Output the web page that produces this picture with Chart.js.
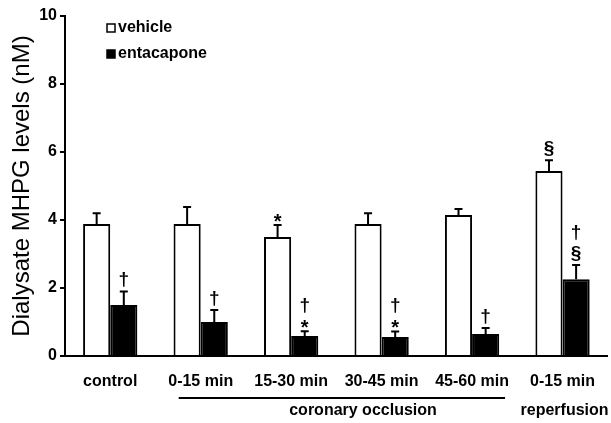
<!DOCTYPE html>
<html>
<head>
<meta charset="utf-8">
<script src="https://cdn.jsdelivr.net/npm/chart.js@4.4.0/dist/chart.umd.min.js"></script>
<style>
  html, body { margin: 0; padding: 0; background: #fff; }
  #wrap { width: 611px; height: 423px; }
</style>
</head>
<body>
<div id="wrap"><canvas id="mhpg-chart" width="611" height="423"></canvas></div>
<script>
const categories = ['control', '0-15 min', '15-30 min', '30-45 min', '45-60 min', '0-15 min']
const vehicle = [3.88, 3.88, 3.5, 3.88, 4.15, 5.44]
const vehicleErr = [0.32, 0.5, 0.35, 0.32, 0.17, 0.32]
const entacapone = [1.5, 1.0, 0.59, 0.56, 0.65, 2.26]
const entacaponeErr = [0.4, 0.35, 0.14, 0.16, 0.17, 0.42]
// significance marks above each bar, listed bottom to top
const vehicleMarks = [[], [], ['*'], [], [], ['§']]
const entacaponeMarks = [['†'], ['†'], ['*', '†'], ['*', '†'], ['†'], ['§', '†']]
const yTicks = [0, 2, 4, 6, 8, 10]

const FONT = '"Liberation Sans", Arial, sans-serif'

initChart()

function initChart() {
  const ctx = document.getElementById('mhpg-chart')

  new Chart(ctx, {
    type: 'bar',
    data: {
      labels: categories,
      datasets: [
        {
          label: 'vehicle',
          data: vehicle,
          err: vehicleErr,
          marks: vehicleMarks,
          backgroundColor: '#fff',
          borderColor: '#000',
          borderWidth: 2,
        },
        {
          label: 'entacapone',
          data: entacapone,
          err: entacaponeErr,
          marks: entacaponeMarks,
          backgroundColor: '#000',
          borderColor: '#000',
          borderWidth: 2,
        },
      ],
    },
    options: {
      responsive: false,
      animation: false,
      datasets: { bar: { categoryPercentage: 0.6, barPercentage: 1 } },
      layout: { padding: { top: 16, right: 0, left: 0, bottom: 0 } },
      plugins: { legend: { display: false }, tooltip: { enabled: false } },
      scales: {
        x: {
          grid: { display: false, drawTicks: false },
          border: { color: '#000', width: 2 },
          ticks: { color: '#000', padding: 16, font: { family: FONT, size: 16, weight: 'bold' } },
          afterFit: (s) => { s.height = 67 },
        },
        y: {
          min: 0,
          max: 10,
          afterBuildTicks: (s) => { s.ticks = yTicks.map((v) => ({ value: v })) },
          grid: { drawOnChartArea: false, color: '#000', lineWidth: 2, tickLength: 5 },
          border: { color: '#000', width: 2 },
          ticks: { color: '#000', padding: 3, font: { family: FONT, size: 16, weight: 'bold' } },
          title: {
            display: true,
            text: 'Dialysate MHPG levels (nM)',
            color: '#000',
            font: { family: FONT, size: 24 },
            padding: { top: 8, bottom: 0 },
          },
          afterFit: (s) => { s.width = 65 },
        },
      },
    },
    plugins: [errorBarsPlugin(), extrasPlugin()],
  })
}

function errorBarsPlugin() {
  return {
    id: 'errorBars',
    afterDatasetsDraw(chart) {
      const c = chart.ctx
      const y = chart.scales.y
      c.save()
      chart.data.datasets.forEach((ds, di) => {
        const meta = chart.getDatasetMeta(di)
        meta.data.forEach((bar, i) => {
          const top = y.getPixelForValue(ds.data[i] + ds.err[i])
          c.strokeStyle = '#000'
          c.lineWidth = 2
          c.beginPath()
          c.moveTo(bar.x, bar.y)
          c.lineTo(bar.x, top)
          c.moveTo(bar.x - 4, top)
          c.lineTo(bar.x + 4, top)
          c.stroke()

          c.fillStyle = '#000'
          c.textAlign = 'center'
          c.textBaseline = 'bottom'
          let base = top - 2
          ds.marks[i].forEach((m) => {
            if (m === '*') {
              c.font = 'bold 20px ' + FONT
              c.fillText(m, bar.x, base + 9)
              base -= 14
            } else {
              c.font = 'bold 19px ' + FONT
              c.fillText(m, bar.x, base)
              base -= 21
            }
          })
        })
      })
      c.restore()
    },
  }
}

function extrasPlugin() {
  return {
    id: 'extras',
    afterDraw(chart) {
      const c = chart.ctx
      const x = chart.scales.x
      const area = chart.chartArea
      c.save()

      // legend inside plot
      chart.data.datasets.forEach((ds, i) => {
        const ly = area.top + 12 + i * 26
        c.fillStyle = ds.backgroundColor
        c.strokeStyle = '#000'
        c.lineWidth = 1.5
        c.fillRect(107, ly - 4, 8, 8)
        c.strokeRect(107, ly - 4, 8, 8)
        c.fillStyle = '#000'
        c.font = 'bold 16px ' + FONT
        c.textAlign = 'left'
        c.textBaseline = 'middle'
        c.fillText(ds.label, 118, ly)
      })

      // group captions under the axis
      const occStart = x.getPixelForValue(1) - 22
      const occEnd = x.getPixelForValue(4) + 33
      c.strokeStyle = '#000'
      c.lineWidth = 2
      c.beginPath()
      c.moveTo(occStart, 398)
      c.lineTo(occEnd, 398)
      c.stroke()

      c.fillStyle = '#000'
      c.font = 'bold 16px ' + FONT
      c.textAlign = 'center'
      c.textBaseline = 'middle'
      c.fillText('coronary occlusion', 363, 411)
      c.fillText('reperfusion', x.getPixelForValue(5) + 2, 411)
      c.restore()
    },
  }
}
</script>
</body>
</html>
